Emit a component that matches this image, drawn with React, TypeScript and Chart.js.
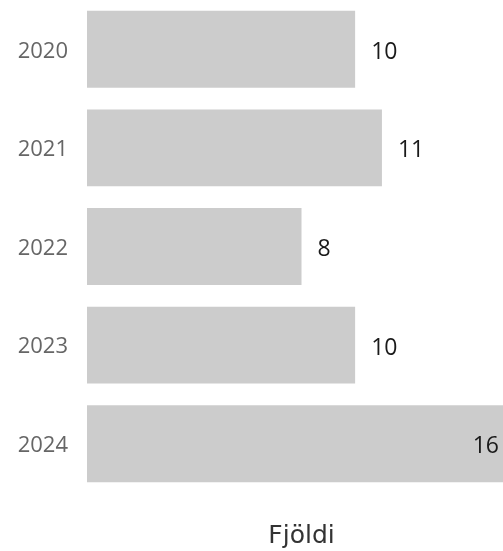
import React, { useEffect, useRef } from "react";
import { Chart, registerables } from "chart.js";

Chart.register(...registerables);

const years = ["2020", "2021", "2022", "2023", "2024"];
const counts = [10, 11, 8, 10, 16];
const axisTitle = "Fjöldi";

const valueLabels = {
  id: "valueLabels",
  afterDatasetsDraw(chart: any) {
    const ctx = chart.ctx;
    const meta = chart.getDatasetMeta(0);
    ctx.save();
    ctx.font = "23px 'Open Sans'";
    ctx.fillStyle = "#1a1a1a";
    ctx.textBaseline = "middle";
    ctx.textAlign = "left";
    meta.data.forEach((bar: any, i: number) => {
      const txt = String(counts[i]);
      const w = ctx.measureText(txt).width;
      let x = bar.x + 16;
      const maxX = 499 - w;
      if (x > maxX) x = maxX;
      ctx.fillText(txt, x, bar.y + 3);
    });
    ctx.restore();
  },
};

export default function App() {
  const ref = useRef<HTMLCanvasElement>(null);
  useEffect(() => {
    if (!ref.current) return;
    const chart = new Chart(ref.current, {
      type: "bar",
      data: {
        labels: years,
        datasets: [
          {
            data: counts,
            backgroundColor: "#cccccc",
            barPercentage: 1,
            categoryPercentage: 0.78,
          },
        ],
      },
      options: {
        indexAxis: "y",
        animation: false,
        responsive: false,
        maintainAspectRatio: false,
        layout: { padding: 0 },
        plugins: {
          legend: { display: false },
          tooltip: { enabled: false },
        },
        scales: {
          x: {
            min: 0,
            max: 16,
            grid: { display: false, drawTicks: false },
            border: { display: false },
            ticks: { display: false },
            title: {
              display: true,
              text: axisTitle,
              color: "#333",
              font: { family: "'DejaVu Sans'", size: 25 },
              padding: { top: 28, bottom: 0 },
            },
          },
          y: {
            grid: { display: false, drawTicks: false },
            border: { display: false },
            afterFit: (s: any) => {
              s.width = 87;
              s.paddingTop = 0;
              s.paddingBottom = 0;
            },
            ticks: {
              color: "#666",
              padding: 19,
              labelOffset: 2,
              font: { family: "'Open Sans'", size: 22 },
            },
          },
        },
      },
      plugins: [valueLabels],
    });
    return () => chart.destroy();
  }, []);
  return (
    <div style={{ position: "absolute", left: 0, top: 0, width: 503, height: 551, overflow: "hidden" }}>
      <canvas ref={ref} width={516} height={551} style={{ display: "block" }} />
    </div>
  );
}
